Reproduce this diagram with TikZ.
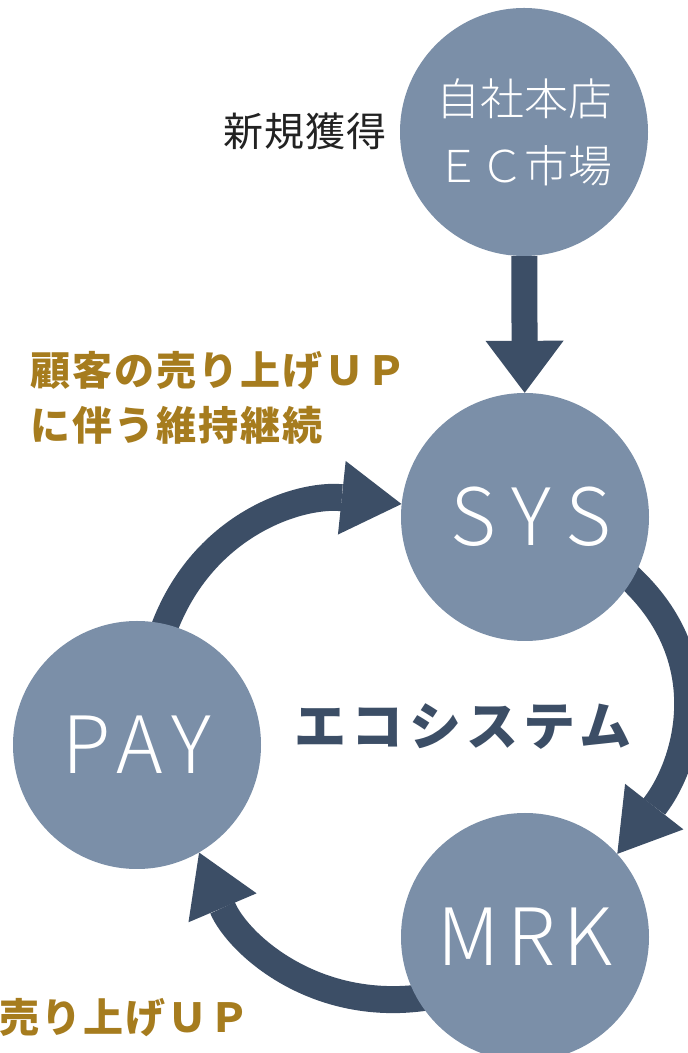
\documentclass[tikz,border=0pt]{standalone}
\usepackage{fontspec}
\setmainfont{Noto Sans CJK JP}
\IfFontExistsTF{Noto Sans CJK JP Light}
  {\newfontfamily\lightjp{Noto Sans CJK JP Light}}
  {\newfontfamily\lightjp{Noto Sans CJK JP}}
\usetikzlibrary{arrows.meta}
\definecolor{navy}{HTML}{3C4E66}
\definecolor{circ}{HTML}{7B8FA8}
\definecolor{gold}{HTML}{A67C1E}
\definecolor{ink}{HTML}{222222}
\pgfdeclarelayer{bg}
\pgfdeclarelayer{paper}
\pgfsetlayers{paper,bg,main}
\begin{document}
\begin{tikzpicture}[x=1pt,y=1pt,
  circnode/.style={circle, fill=circ, draw=none, minimum size=248pt, inner sep=0pt, text=white},
  biglabel/.style={font=\fontsize{79}{79}\lightjp\selectfont\addfontfeature{LetterSpace=#1}},
  bigarrow/.style={draw=navy, line width=27pt, shorten <=-20pt,
    -{Triangle[length=60pt,width=74pt,line width=0pt]}},
  downarrow/.style={draw=navy, line width=26pt,
    -{Triangle[length=52pt,width=78pt,line width=0pt]}},
  goldtext/.style={text=gold, inner sep=0pt,
    font=\fontsize{40}{55}\selectfont\bfseries\addfontfeature{LetterSpace=5}},
]
\useasboundingbox (0,0) rectangle (688,1053);
\begin{pgfonlayer}{paper}
\fill[white] (0,0) rectangle (688,1053);
\end{pgfonlayer}

% circles
\node[circnode, align=center, font=\fontsize{44}{67}\lightjp\selectfont] (ec) at (524,921) {自社本店\\ＥＣ市場};
\node[circnode, biglabel=20] (sys) at (525,536) {\hspace*{12pt}SYS};
\node[circnode, biglabel=12] (pay) at (137,308) {PAY};
\node[circnode, biglabel=10] (mrk) at (525,116) {MRK};

% texts
\node[text=ink, inner sep=0pt, font=\fontsize{40}{40}\selectfont\addfontfeature{LetterSpace=3}] (new) at (305,922) {新規獲得};
\node[goldtext, anchor=west, align=left] (upkeep) at (30,655.5) {顧客の売り上げＵＰ\\に伴う維持継続};
\node[goldtext, anchor=west] (sales) at (-1,35) {売り上げＵＰ};
\node[text=navy, inner sep=0pt, font=\fontsize{52}{52}\selectfont\bfseries\addfontfeature{LetterSpace=10}] (eco) at (463,326) {エコシステム};

% arrows
\begin{pgfonlayer}{bg}
\draw[downarrow] (ec) -- (sys);
\draw[bigarrow] (pay.77) .. controls +(73:103) and +(174:103) .. (sys.174);
\draw[bigarrow] (sys.-30) .. controls +(-39:115) and +(52:115) .. (mrk.42);
\draw[bigarrow] (mrk.210) .. controls +(191:100) and +(-67:100) .. (pay.-60);
\end{pgfonlayer}
\end{tikzpicture}
\end{document}
